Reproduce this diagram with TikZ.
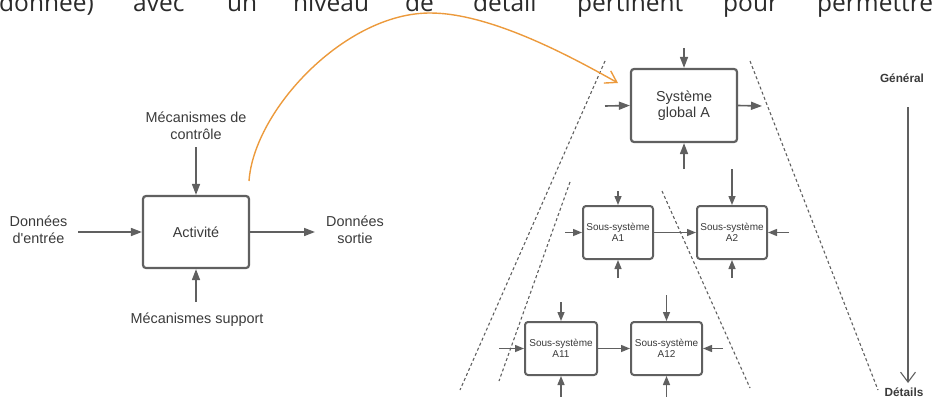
\documentclass[tikz,border=0pt]{standalone}
\usepackage{fontspec}
\setmainfont{Liberation Sans}
\newfontfamily\topfont{Open Sans}
\usetikzlibrary{arrows.meta}
\definecolor{gline}{HTML}{606060}
\definecolor{gtext}{HTML}{3A3A3A}
\definecolor{ttext}{HTML}{2A2A2A}
\definecolor{orng}{HTML}{EC9A3C}
\begin{document}
\begin{tikzpicture}[x=1pt,y=-1pt,
  box/.style={draw=gline, line width=2.2pt, rounded corners=3pt, fill=white, inner sep=0pt, text=gtext, align=center},
  bigbox/.style={box, font=\fontsize{14.4}{16.5}\selectfont},
  smallbox/.style={box, line width=2pt, font=\fontsize{10}{11.5}\selectfont},
  lbl/.style={text=gtext, align=center, inner sep=0pt, font=\fontsize{14.4}{16.5}\selectfont},
  boldlbl/.style={text=gtext, inner sep=0pt, font=\bfseries\fontsize{11.8}{13}\selectfont},
  arr/.style={draw=gline, line width=1.6pt, -{Triangle[length=11pt,width=8pt]}},
  sarr/.style={draw=gline, line width=1.4pt, -{Triangle[length=9pt,width=7pt]}},
  dsh/.style={draw=gline, line width=1.1pt, dash pattern=on 3pt off 2.5pt},
  topw/.style={anchor=base west, inner sep=0pt, text=ttext, font=\topfont\fontsize{24.5}{28}\selectfont},
]
\useasboundingbox (0,0) rectangle (933,396);
\begin{scope}
\clip (0,0) rectangle (933,396);

% cut-off line of text at the top
\node[topw] (w1) at (-1,12) {donnée)};
\node[topw] (w2) at (133,12) {avec};
\node[topw] (w3) at (227,12) {un};
\node[topw] (w4) at (293,12) {niveau};
\node[topw] (w5) at (405,12) {de};
\node[topw] (w6) at (473,12) {détail};
\node[topw] (w7) at (577,12) {pertinent};
\node[topw] (w8) at (723,12) {pour};
\node[topw] (w9) at (817,12) {permettre};

% ---------- left: activity ----------
\node[bigbox, minimum width=106pt, minimum height=72pt] (act) at (196,232) {Activité};
\node[lbl] (inL) at (38.5,230) {Données\\d\textquotesingle entrée};
\node[lbl] (outR) at (355,230) {Données\\sortie};
\node[lbl] (ctl) at (196,126) {Mécanismes de\\contrôle};
\node[lbl] (sup) at (197,320) {Mécanismes support};

\coordinate (actIn) at (78,232);
\coordinate (actOut) at (315,232);
\coordinate (actTop) at (196,147);
\coordinate (actBot) at (196,302);
\draw[arr] (actIn) -- (act.west);
\draw[arr] (act.east) -- (actOut);
\draw[arr] (actTop) -- (act.north);
\draw[arr] (actBot) -- (act.south);

% ---------- right: decomposition ----------
\draw[dsh] (605,61) -- (460,390);
\draw[dsh] (750,61) -- (878,390);
\draw[dsh] (570,182) -- (499,381);
\draw[dsh] (662,191) -- (750,388);

\node[bigbox, minimum width=106pt, minimum height=73pt] (sys) at (684,105.5) {Système\\global A};
\node[smallbox, minimum width=70pt, minimum height=53pt] (a1) at (618,232.5) {Sous-système\\A1};
\node[smallbox, minimum width=70pt, minimum height=53pt] (a2) at (732,232.5) {Sous-système\\A2};
\node[smallbox, minimum width=72pt, minimum height=53pt] (a11) at (561,348.5) {Sous-système\\A11};
\node[smallbox, minimum width=71pt, minimum height=53pt] (a12) at (666.5,348.5) {Sous-système\\A12};

\coordinate (sysT) at (684,48);
\coordinate (sysL) at (605,106);
\coordinate (sysR) at (762,106);
\coordinate (sysB) at (684,169);
\draw[arr] (sysT) -- (sys.north);
\draw[arr] (sysL) -- (sys.west);
\draw[arr] (sys.east) -- (sysR);
\draw[arr] (sysB) -- (sys.south);

\coordinate (a1T) at (618,191);
\coordinate (a1L) at (565,232.5);
\coordinate (a1B) at (618,278);
\draw[sarr] (a1T) -- (a1.north);
\draw[sarr] (a1L) -- (a1.west);
\draw[sarr] (a1B) -- (a1.south);
\draw[sarr] (a1.east) -- (a2.west);

\coordinate (a2T) at (732,169);
\coordinate (a2R) at (789,232.5);
\coordinate (a2B) at (732,278);
\draw[sarr] (a2T) -- (a2.north);
\draw[sarr] (a2R) -- (a2.east);
\draw[sarr] (a2B) -- (a2.south);

\coordinate (a11T) at (561,302);
\coordinate (a11L) at (499,348.5);
\coordinate (a11B) at (561,400);
\draw[sarr] (a11T) -- (a11.north);
\draw[sarr] (a11L) -- (a11.west);
\draw[sarr] (a11B) -- (a11.south);
\draw[sarr] (a11.east) -- (a12.west);

\coordinate (a12T) at (666.5,295);
\coordinate (a12R) at (723,348.5);
\coordinate (a12B) at (666.5,400);
\draw[sarr] (a12T) -- (a12.north);
\draw[sarr] (a12R) -- (a12.east);
\draw[sarr] (a12B) -- (a12.south);

% ---------- orange link ----------
\coordinate (oS) at (249,181);
\coordinate (oM) at (430,13);
\coordinate (oE) at (618,83);
\draw[orng, line width=1.4pt, -{Straight Barb[length=11pt,width=14pt]}]
  (oS) .. controls (254,110) and (345,13) .. (oM)
       .. controls (490,13) and (570,56) .. (oE);

% ---------- general / details ----------
\node[boldlbl, anchor=base] (gen) at (902,82.5) {Général};
\node[boldlbl, anchor=base] (det) at (904,396) {Détails};
\coordinate (gT) at (908,107);
\coordinate (gB) at (908,383);
\draw[gline, line width=1.1pt, -{Straight Barb[length=10pt,width=15pt]}] (gT) -- (gB);
\end{scope}
\end{tikzpicture}
\end{document}
